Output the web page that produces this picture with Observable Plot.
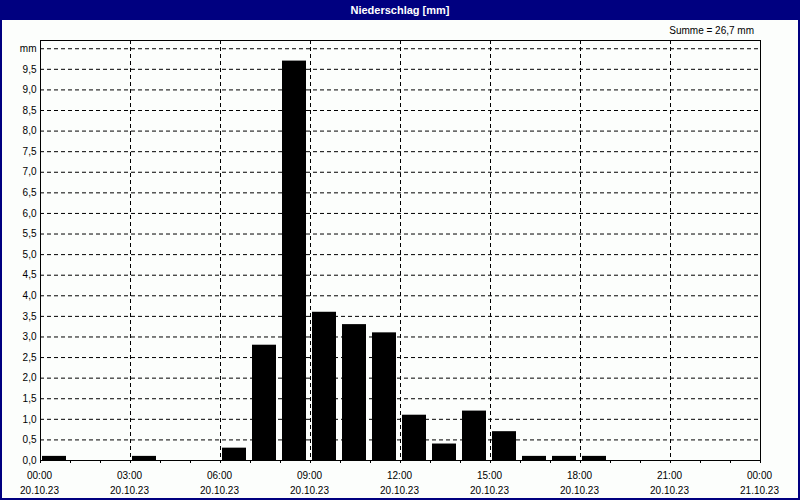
<!DOCTYPE html>
<html><head><meta charset="utf-8">
<script src="https://cdn.jsdelivr.net/npm/d3@7"></script>
<script src="https://cdn.jsdelivr.net/npm/@observablehq/plot@0.6"></script>
<style>
body{margin:0;background:#fcfefc;}
#wrap{position:relative;width:800px;height:500px;background:#fcfefc;overflow:hidden;font-family:"Liberation Sans",Arial,sans-serif;color:#000;}
#title{position:absolute;left:0;top:0;width:800px;height:20px;background:#000080;color:#fff;font-weight:bold;font-size:11px;text-align:center;line-height:20px;}
#sum{position:absolute;right:46px;top:25px;font-size:10px;line-height:12px;}
#chart{position:absolute;left:0;top:20px;}
#border{position:absolute;left:0;top:0;width:800px;height:500px;box-sizing:border-box;border:2px solid #000080;border-top:none;pointer-events:none;}
</style></head>
<body>
<div id="wrap">
  <div id="title">Niederschlag [mm]</div>
  <div id="sum">Summe = 26,7 mm</div>
  <div id="chart"></div>
  <div id="border"></div>
</div>
<script>
const hours = [0,1,2,3,4,5,6,7,8,9,10,11,12,13,14,15,16,17,18,19,20,21,22,23];
const precip = [0.1,0,0,0.1,0,0,0.3,2.8,9.7,3.6,3.3,3.1,1.1,0.4,1.2,0.7,0.1,0.1,0.1,0,0,0,0,0];
const hourTicks = [0,1,2,3,4,5,6,7,8,9,10,11,12,13,14,15,16,17,18,19,20,21,22,23,24];
const xLabelHours = [0,3,6,9,12,15,18,21,24];
const xTimeLabels = ["00:00","03:00","06:00","09:00","12:00","15:00","18:00","21:00","00:00"];
const xDateLabels = ["20.10.23","20.10.23","20.10.23","20.10.23","20.10.23","20.10.23","20.10.23","20.10.23","21.10.23"];
const yTicks = [0,0.5,1,1.5,2,2.5,3,3.5,4,4.5,5,5.5,6,6.5,7,7.5,8,8.5,9,9.5,10];
const yTickLabels = ["0,0","0,5","1,0","1,5","2,0","2,5","3,0","3,5","4,0","4,5","5,0","5,5","6,0","6,5","7,0","7,5","8,0","8,5","9,0","9,5","mm"];

const bars = hours.map((h,i)=>({h, v: precip[i]})).filter(d=>d.v>0);
const xLab = xLabelHours.map((h,i)=>({h, t: xTimeLabels[i], d: xDateLabels[i]}));
const yLab = yTicks.map((v,i)=>({v, label: yTickLabels[i]}));

const chart = Plot.plot({
  width: 800, height: 480,
  marginLeft: 40, marginRight: 40, marginTop: 20, marginBottom: 40,
  style: {fontFamily: '"Liberation Sans", Arial, sans-serif', fontSize: "10px", background: "transparent", color: "#000"},
  x: {type: "linear", domain: [0, 24], axis: null, label: null},
  y: {domain: [0, 10.2], axis: null, label: null},
  marks: [
    Plot.ruleY(yTicks.filter(v=>v>0), {stroke: "#000", strokeDasharray: "4,3"}),
    Plot.ruleX(xLabelHours.filter(h=>h>0 && h<24), {stroke: "#000", strokeDasharray: "4,3"}),
    Plot.rectY(bars, {x1: "h", x2: d=>d.h+1, y: "v", fill: "#000", insetLeft: 2, insetRight: 4}),
    Plot.frame({stroke: "#000"}),
    Plot.axisX(hourTicks, {tickSize: 3, tickFormat: () => "", label: null, stroke: "#000"}),
    Plot.text(xLab, {x: "h", text: d=>d.t + "\n" + d.d, frameAnchor: "bottom", lineAnchor: "top", dy: 8, dx: -1, lineHeight: 1.5, fontSize: 10, fill: "#000"}),
    Plot.text(yLab, {y: "v", text: "label", frameAnchor: "left", textAnchor: "end", dx: -4, fontSize: 10, fill: "#000"})
  ]
});
document.getElementById("chart").appendChild(chart);
</script>
</body></html>
